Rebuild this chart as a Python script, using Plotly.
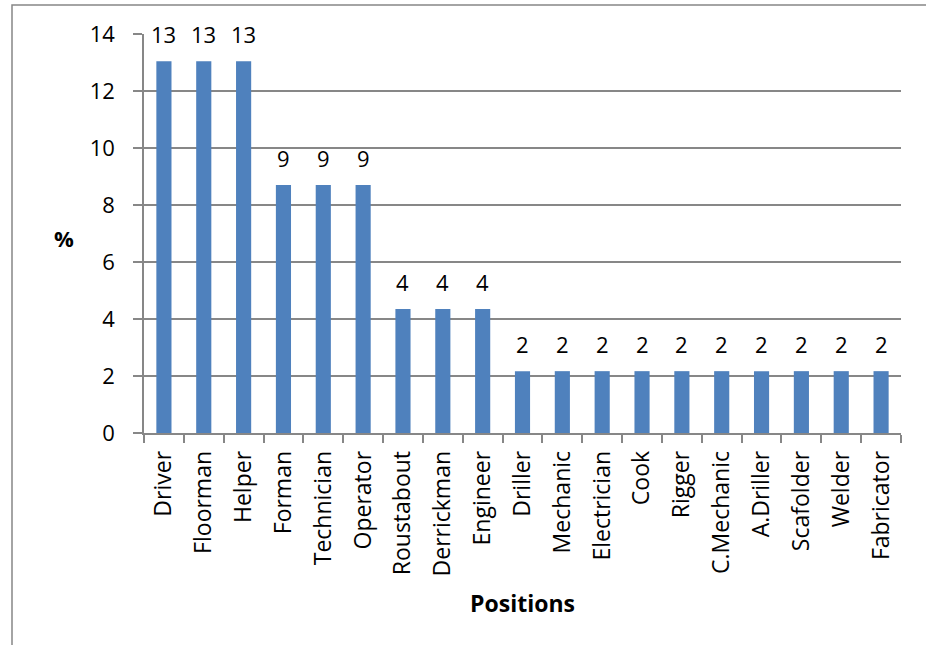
import plotly.graph_objects as go

positions = ["Driver", "Floorman", "Helper", "Forman", "Technician", "Operator",
             "Roustabout", "Derrickman", "Engineer", "Driller", "Mechanic", "Electrician",
             "Cook", "Rigger", "C.Mechanic", "A.Driller", "Scafolder", "Welder", "Fabricator"]
percent = [13.04, 13.04, 13.04, 8.70, 8.70, 8.70, 4.35, 4.35, 4.35,
           2.17, 2.17, 2.17, 2.17, 2.17, 2.17, 2.17, 2.17, 2.17, 2.17]
labels = ["13", "13", "13", "9", "9", "9", "4", "4", "4",
          "2", "2", "2", "2", "2", "2", "2", "2", "2", "2"]

FONT = "Open Sans"
GRAY = "#878787"
FS = 22

fig = go.Figure(go.Bar(
    x=positions, y=percent,
    marker=dict(color="#4F81BD", line=dict(width=0)),
    width=0.38,
))

L, R, T, B = 144, 25, 34, 212
W, H = 926, 645
pw, ph = W - L - R, H - T - B

# data labels above bars
for cat, val, lab in zip(positions, percent, labels):
    fig.add_annotation(x=cat, y=val, text=lab, showarrow=False, yanchor="bottom",
                       yshift=10, font=dict(family=FONT, size=FS, color="black"))

fig.update_layout(
    width=W, height=H,
    margin=dict(l=L, r=R, t=T, b=B, pad=0),
    paper_bgcolor="white", plot_bgcolor="white",
    showlegend=False,
    font=dict(family=FONT, size=FS, color="black"),
    xaxis=dict(
        type="category", tickson="boundaries", ticks="outside", ticklen=8,
        tickcolor=GRAY, tickwidth=1.5, showline=True, linecolor=GRAY, linewidth=1.5,
        showgrid=False, tickangle=-90, tickfont=dict(family=FONT, size=23),
        ticklabelstandoff=7,
        title=dict(text="<b>Positions</b>", font=dict(family=FONT, size=23), standoff=20),
    ),
    yaxis=dict(
        range=[0, 14], dtick=2, ticks="outside", ticklen=9, tickcolor=GRAY, tickwidth=1.5,
        showline=True, linecolor=GRAY, linewidth=1.5,
        showgrid=True, gridcolor=GRAY, gridwidth=1.5, zeroline=False,
        tickfont=dict(family=FONT, size=FS), ticklabelstandoff=14,
    ),
)

# y-axis title, horizontal as in the original
fig.add_annotation(xref="paper", yref="paper", x=(64 - L) / pw, y=(H - B - 238) / ph,
                   text="<b>%</b>", showarrow=False, xanchor="center", yanchor="middle",
                   font=dict(family=FONT, size=FS, color="black"))

# outer chart border (only left and top edges visible)
fig.add_shape(type="rect", xref="paper", yref="paper",
              x0=(12 - L) / pw, x1=2.0, y0=-2.0, y1=1 + (T - 5) / ph,
              line=dict(color=GRAY, width=1.5), layer="below")

fig.write_html("out.html", config={"displayModeBar": False},
               post_script="document.body.style.margin='0';")
